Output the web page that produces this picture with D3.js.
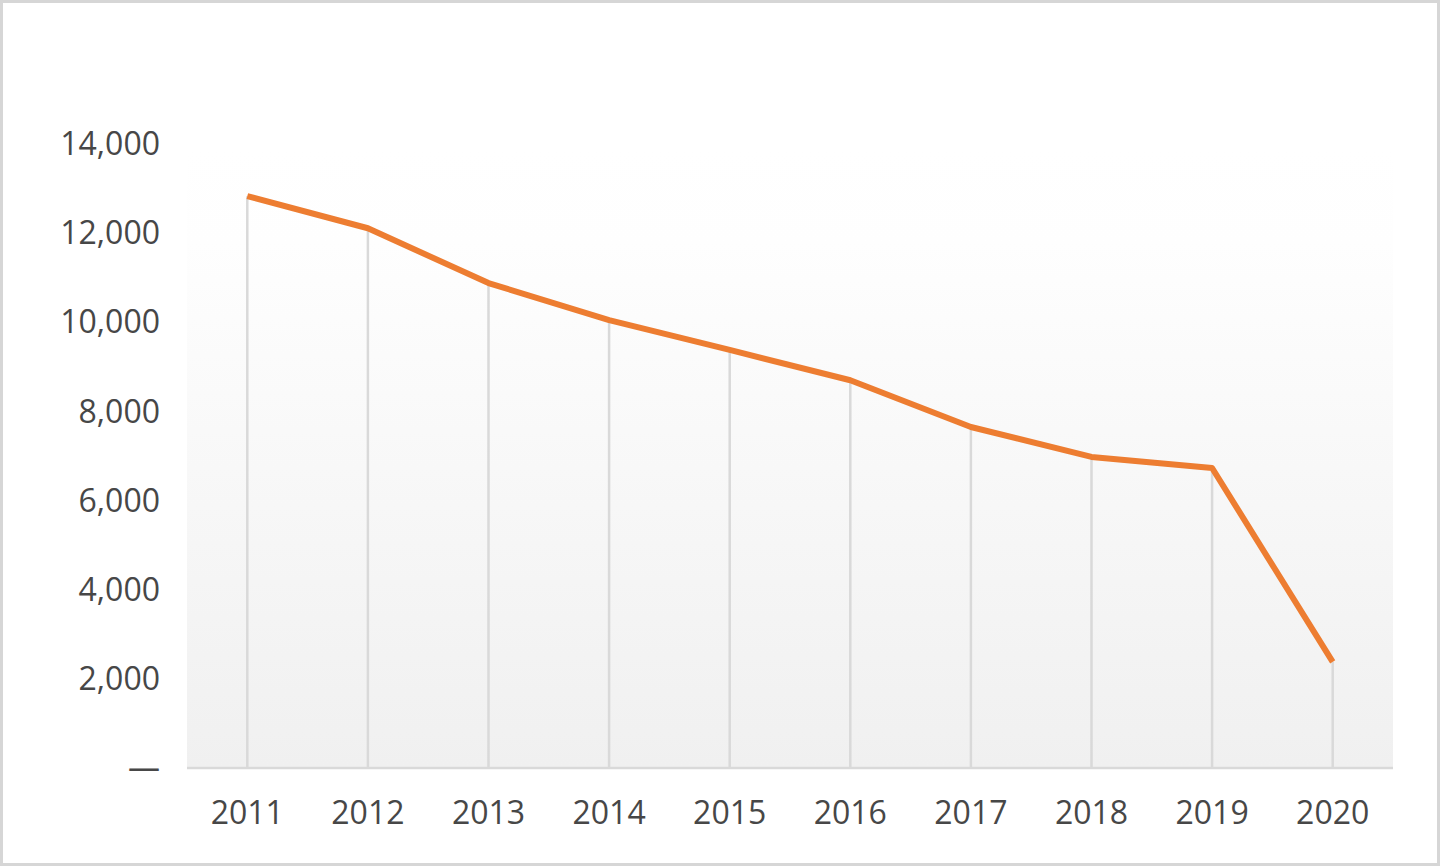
<!DOCTYPE html>
<html>
<head>
<meta charset="utf-8">
<script src="https://cdn.jsdelivr.net/npm/d3@7/dist/d3.min.js"></script>
<style>
html,body{margin:0;padding:0;background:#fff;}
svg{display:block;}
text{font-family:"Open Sans",sans-serif;}
</style>
</head>
<body>
<svg id="chart" width="1440" height="866"></svg>
<script>
const years = ["2011","2012","2013","2014","2015","2016","2017","2018","2019","2020"];
const values = [12830, 12110, 10880, 10050, 9380, 8700, 7650, 6980, 6730, 2380];
const yTicks = [0, 2000, 4000, 6000, 8000, 10000, 12000, 14000];

(function(){
const svg = d3.select("#chart");
const W = 1440, H = 866;
const pLeft = 187, pRight = 1393, pTop = 150, pBottom = 768;

// outer frame
svg.append("rect").attr("x",1.5).attr("y",1.5).attr("width",W-3).attr("height",H-3)
  .attr("fill","#fff").attr("stroke","#d6d6d6").attr("stroke-width",3);

const defs = svg.append("defs");
const grad = defs.append("linearGradient").attr("id","bg").attr("x1",0).attr("y1",0).attr("x2",0).attr("y2",1);
grad.append("stop").attr("offset","0%").attr("stop-color","#ffffff");
grad.append("stop").attr("offset","15%").attr("stop-color","#fefefe");
grad.append("stop").attr("offset","100%").attr("stop-color","#f0f0f0");

svg.append("rect").attr("x",pLeft).attr("y",pTop).attr("width",pRight-pLeft).attr("height",pBottom-pTop)
  .attr("fill","url(#bg)");

const x = d3.scaleBand().domain(years).range([pLeft,pRight]);
const y = d3.scaleLinear().domain([0,14000]).range([pBottom,144]);
const cx = d => x(d) + x.bandwidth()/2;

// drop lines
svg.append("g").selectAll("line").data(years).join("line")
  .attr("x1",d=>cx(d)).attr("x2",d=>cx(d))
  .attr("y1",(d,i)=>y(values[i])).attr("y2",pBottom)
  .attr("stroke","#d9d9d9").attr("stroke-width",2.5);

// baseline
svg.append("line").attr("x1",pLeft).attr("x2",pRight).attr("y1",pBottom).attr("y2",pBottom)
  .attr("stroke","#d9d9d9").attr("stroke-width",2.5);

// y labels
svg.append("g").selectAll("text").data(yTicks).join("text")
  .attr("x",160).attr("y",d=>y(d)).attr("dy","0.35em")
  .attr("text-anchor","end").attr("font-size",32).attr("fill","#474747")
  .text(d => d===0 ? "—" : d3.format(",")(d));

// x labels
svg.append("g").selectAll("text").data(years).join("text")
  .attr("x",d=>cx(d)).attr("y",813).attr("dy","0.35em")
  .attr("text-anchor","middle").attr("font-size",32).attr("fill","#474747")
  .text(d=>d);

// line
const line = d3.line().x((d,i)=>cx(years[i])).y(d=>y(d));
svg.append("path").datum(values).attr("d",line)
  .attr("fill","none").attr("stroke","#ED7D31").attr("stroke-width",6)
  .attr("stroke-linejoin","round").attr("stroke-linecap","butt");
})();
</script>
</body>
</html>
